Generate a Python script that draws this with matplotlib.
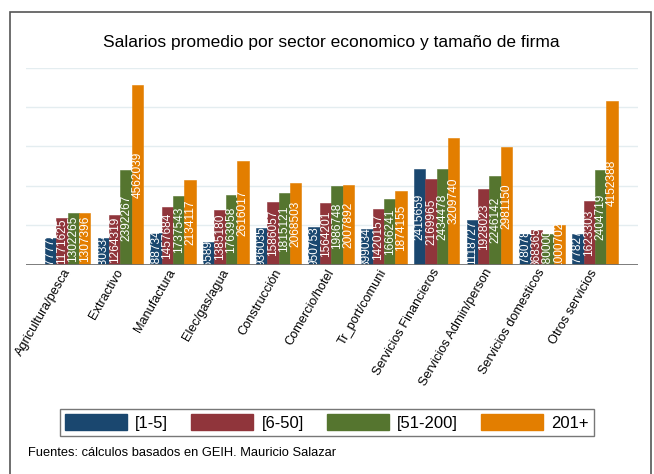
import matplotlib.pyplot as plt
import matplotlib.patches as mpatches
import numpy as np

plt.rcParams['font.family'] = ['Liberation Sans', 'DejaVu Sans']

sectores = ['Agricultura/pesca', 'Extractivo', 'Manufactura', 'Elec/gas/agua',
            'Construcción', 'Comercio/hotel', 'Tr_port/comuni',
            'Servicios Financieros', 'Servicios Admin/person',
            'Servicios domesticos', 'Otros servicios']

tam_1_5 = [677772, 680334, 788734, 565890, 936035, 950753, 899034,
           2415659, 1118727, 778078, 777827]
tam_6_50 = [1171625, 1264319, 1457684, 1385180, 1586057, 1564201, 1420157,
            2169965, 1928023, 868365, 1623303]
tam_51_200 = [1302265, 2392267, 1737543, 1763958, 1815121, 1986748, 1666241,
              2434478, 2246142, 780000, 2404719]
tam_201 = [1307396, 4562039, 2134117, 2616017, 2068503, 2007892, 1874155,
           3209740, 2981150, 1000702, 4152388]

series = [tam_1_5, tam_6_50, tam_51_200, tam_201]
etiquetas = ['[1-5]', '[6-50]', '[51-200]', '201+']
colores = ['#1a476f', '#90353b', '#55752f', '#e37e00']

fig = plt.figure(figsize=(6.54, 4.74), dpi=100)
ax = fig.add_axes([26 / 654, 1 - 264.5 / 474, (637.6 - 26) / 654, (264.5 - 67.5) / 474])

x = np.arange(len(sectores))
w = 0.216
handles = []
for i, (vals, col) in enumerate(zip(series, colores)):
    pos = x + (i - 1.5) * w
    ax.bar(pos, vals, width=w, color=col, edgecolor=col, linewidth=0.4, zorder=2)
    handles.append(mpatches.Patch(facecolor=col, edgecolor=col))
    # etiqueta centrada dentro de cada barra
    for px, v in zip(pos, vals):
        ax.text(px, v / 2, str(v), rotation=90, ha='center', va='center',
                color='white', fontsize=8.6, clip_on=True, zorder=3)

ax.set_ylim(0, 5000000)
ax.set_xlim(-0.79, len(sectores) - 1 + 0.81)
ax.set_yticks([1000000, 2000000, 3000000, 4000000, 5000000])
ax.yaxis.grid(True, color='#e4edf0', linewidth=1, zorder=0)
ax.tick_params(axis='y', left=False, labelleft=False)
ax.tick_params(axis='x', length=0, pad=4)
for s in ax.spines.values():
    s.set_visible(False)
ax.axhline(0, color='#707070', linewidth=2, zorder=4)

ax.set_xticks(x)
ax.set_xticklabels(sectores, rotation=60, ha='right', rotation_mode='anchor',
                   fontsize=9.2, va='center')

fig.text(331 / 654, 1 - 42 / 474, 'Salarios promedio por sector economico y tamaño de firma',
         ha='center', va='center', fontsize=12.5)

leg = fig.legend(handles, etiquetas, loc='center', ncol=4,
                 bbox_to_anchor=(327 / 654, 1 - 422.5 / 474),
                 frameon=True, fancybox=False, edgecolor='#555555',
                 fontsize=12, handlelength=3.7, handleheight=1.1,
                 columnspacing=1.4, handletextpad=0.5, borderpad=0.3,
                 borderaxespad=0)
leg.get_frame().set_linewidth(1.0)

fig.text(28 / 654, 1 - 453 / 474, 'Fuentes: cálculos basados en GEIH. Mauricio Salazar',
         ha='left', va='center', fontsize=9.3)

fig.patches.append(mpatches.Rectangle((10 / 654, -0.02), (651 - 10) / 654, 1.02 - 12 / 474,
                                      transform=fig.transFigure, fill=False,
                                      edgecolor='#555555', linewidth=1.2))

fig.savefig('out.png', dpi=100)
